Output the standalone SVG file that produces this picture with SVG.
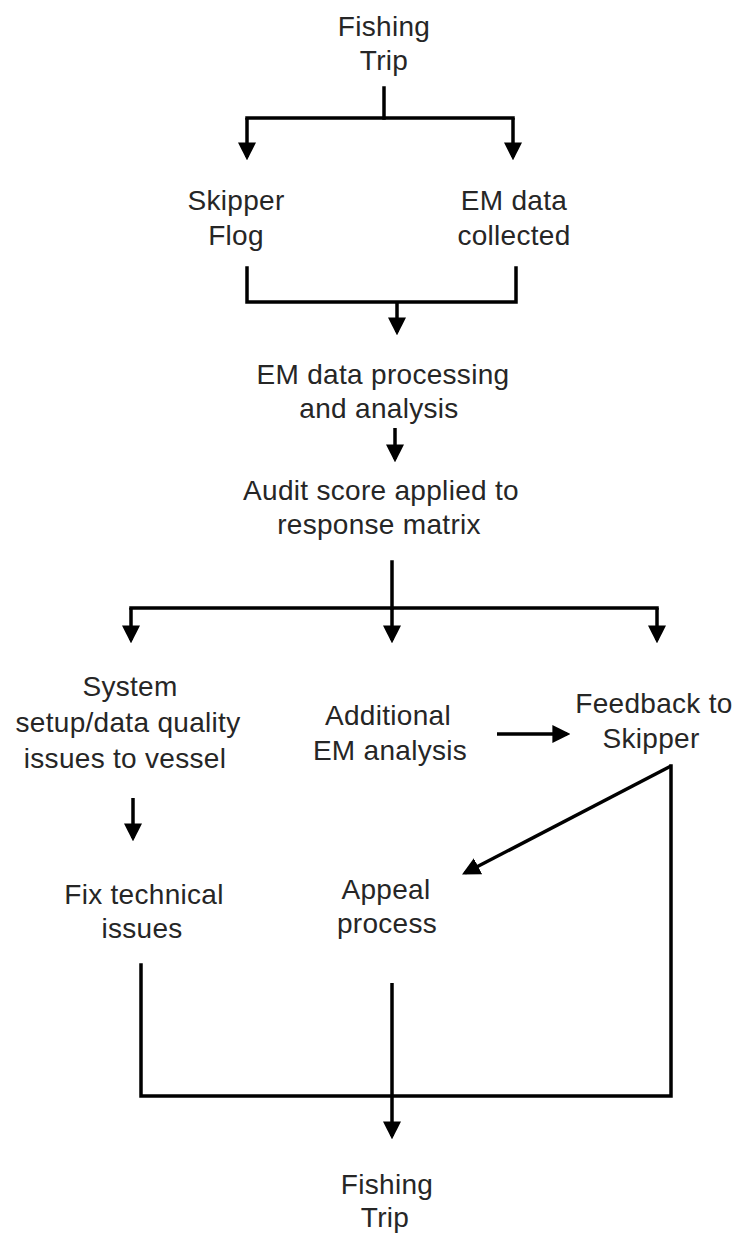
<svg xmlns="http://www.w3.org/2000/svg" width="738" height="1234" viewBox="0 0 738 1234">
  <style>
    .lbl { font-family: "Liberation Sans", Arial, sans-serif; font-size: 28px; fill: #262626; text-anchor: middle; letter-spacing: 0.3px; }
    .ln { fill: none; stroke: #000; stroke-width: 3.5; stroke-linecap: square; }
    .ar { fill: none; stroke: #000; stroke-width: 3.5; marker-end: url(#head); }
  </style>
  <defs>
    <marker id="head" markerUnits="userSpaceOnUse" markerWidth="18" markerHeight="18" viewBox="0 0 16 16" refX="13" refY="8" orient="auto">
      <path d="M0,0 L16,8 L0,16 z" fill="#000"/>
    </marker>
  </defs>
  <rect width="738" height="1234" fill="#fff"/>

  <!-- flow connectors -->
  <g id="connectors">
    <!-- trip start splits to logbook and EM collection -->
    <path class="ln" d="M384 88 V118"/>
    <path class="ln" d="M247 118 H513"/>
    <path class="ar" d="M247 118 V157"/>
    <path class="ar" d="M513 118 V157"/>
    <!-- merge into processing -->
    <path class="ln" d="M247 268 V302 H516 V268"/>
    <path class="ar" d="M397 302 V332"/>
    <path class="ar" d="M395 428 V459"/>
    <!-- response matrix splits three ways -->
    <path class="ln" d="M392 562 V608"/>
    <path class="ln" d="M131 608 H657"/>
    <path class="ar" d="M131 608 V640"/>
    <path class="ar" d="M392 608 V640"/>
    <path class="ar" d="M657 608 V640"/>
    <path class="ar" d="M133 798 V838"/>
    <path class="ar" d="M497 734 H567"/>
    <!-- feedback to appeal and back to trip -->
    <path class="ar" d="M671 766 L465 873"/>
    <path class="ln" d="M671 766 V1096 H141 V965"/>
    <path class="ar" d="M392 983 V1136"/>
  </g>

  <g id="trip-start">
    <text class="lbl" x="384" y="36">Fishing</text>
    <text class="lbl" x="384" y="70">Trip</text>
  </g>
  <g id="skipper-flog">
    <text class="lbl" x="236" y="210">Skipper</text>
    <text class="lbl" x="236" y="245">Flog</text>
  </g>
  <g id="em-collected">
    <text class="lbl" x="514" y="210">EM data</text>
    <text class="lbl" x="514" y="245">collected</text>
  </g>
  <g id="em-processing">
    <text class="lbl" x="383" y="384">EM data processing</text>
    <text class="lbl" x="379" y="418">and analysis</text>
  </g>
  <g id="audit-score">
    <text class="lbl" x="381" y="500">Audit score applied to</text>
    <text class="lbl" x="379" y="534">response matrix</text>
  </g>
  <g id="system-issues">
    <text class="lbl" x="130" y="696">System</text>
    <text class="lbl" x="128" y="732">setup/data quality</text>
    <text class="lbl" x="125" y="768">issues to vessel</text>
  </g>
  <g id="additional-analysis">
    <text class="lbl" x="388" y="725">Additional</text>
    <text class="lbl" x="390" y="760">EM analysis</text>
  </g>
  <g id="feedback">
    <text class="lbl" x="654" y="713">Feedback to</text>
    <text class="lbl" x="651" y="748">Skipper</text>
  </g>
  <g id="fix-issues">
    <text class="lbl" x="144" y="904">Fix technical</text>
    <text class="lbl" x="142" y="938">issues</text>
  </g>
  <g id="appeal">
    <text class="lbl" x="386" y="899">Appeal</text>
    <text class="lbl" x="387" y="933">process</text>
  </g>
  <g id="trip-end">
    <text class="lbl" x="387" y="1194">Fishing</text>
    <text class="lbl" x="385" y="1227">Trip</text>
  </g>
</svg>
